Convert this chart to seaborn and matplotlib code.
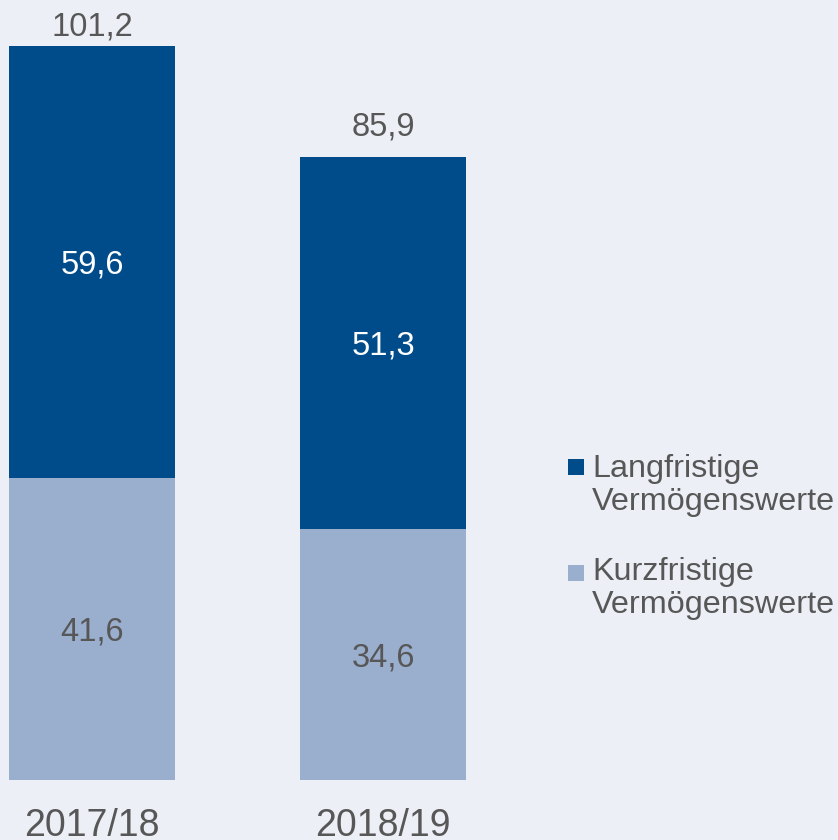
import matplotlib
matplotlib.use("Agg")
import matplotlib.pyplot as plt
import seaborn as sns
import pandas as pd
from matplotlib.patches import Rectangle

years = ["2017/18", "2018/19"]
langfristig = [59.6, 51.3]
kurzfristig = [41.6, 34.6]
totals = [101.2, 85.9]
series_names = ["Langfristige\nVermögenswerte", "Kurzfristige\nVermögenswerte"]

def fmt(v):
    return f"{v:.1f}".replace(".", ",")

DARK = "#004B8A"
LIGHT = "#9AAFCE"
BG = "#ECEFF6"
GREY = "#575757"

sns.set_theme(style="white")
plt.rcParams["font.family"] = ["Liberation Sans", "DejaVu Sans"]

W, H = 838, 840
PPU = 7.253  # pixels per data unit
fig = plt.figure(figsize=(W / 100, H / 100), dpi=100)
fig.patch.set_facecolor(BG)
ax = fig.add_axes([0, 60 / H, 1, 780 / H])
ax.set_facecolor(BG)

df = pd.DataFrame({"year": years, "total": totals, "short": kurzfristig, "long": langfristig})
sns.barplot(data=df, x="year", y="total", color=DARK, saturation=1, width=0.57,
            linewidth=0, edgecolor="none", ax=ax)
sns.barplot(data=df, x="year", y="short", color=LIGHT, saturation=1, width=0.57,
            linewidth=0, edgecolor="none", ax=ax)

ax.set_xlim(-92 / 291, (W - 92) / 291)
ax.set_ylim(0, 780 / PPU)
for s in ax.spines.values():
    s.set_visible(False)
ax.set_yticks([])
ax.set_xlabel("")
ax.set_ylabel("")
ax.tick_params(axis="x", length=0, pad=20, labelsize=27, labelcolor=GREY)

FS = 23.5
top_limit = (780 - 35) / PPU
for i in range(len(years)):
    ax.text(i, min(totals[i] + 21 / PPU, top_limit), fmt(totals[i]),
            ha="center", va="baseline", fontsize=FS, color=GREY)
    ax.annotate(fmt(langfristig[i]), (i, kurzfristig[i] + langfristig[i] / 2),
                xytext=(0, -8.3), textcoords="offset points",
                ha="center", va="baseline", fontsize=FS, color="white")
    ax.annotate(fmt(kurzfristig[i]), (i, kurzfristig[i] / 2),
                xytext=(0, -8.3), textcoords="offset points",
                ha="center", va="baseline", fontsize=FS, color=GREY)

# legend
legend_colors = [DARK, LIGHT]
sq_tops = [459, 565]
baselines = [477, 580]
for name, c, top, bl in zip(series_names, legend_colors, sq_tops, baselines):
    fig.patches.append(Rectangle((568 / W, 1 - (top + 16) / H), 16 / W, 16 / H,
                                 transform=fig.transFigure, facecolor=c, edgecolor="none"))
    for j, line in enumerate(name.split("\n")):
        fig.text(592 / W, 1 - (bl + 33 * j) / H, line, ha="left", va="baseline",
                 fontsize=23.3, color=GREY)

fig.savefig("out.png", dpi=100, facecolor=BG)
